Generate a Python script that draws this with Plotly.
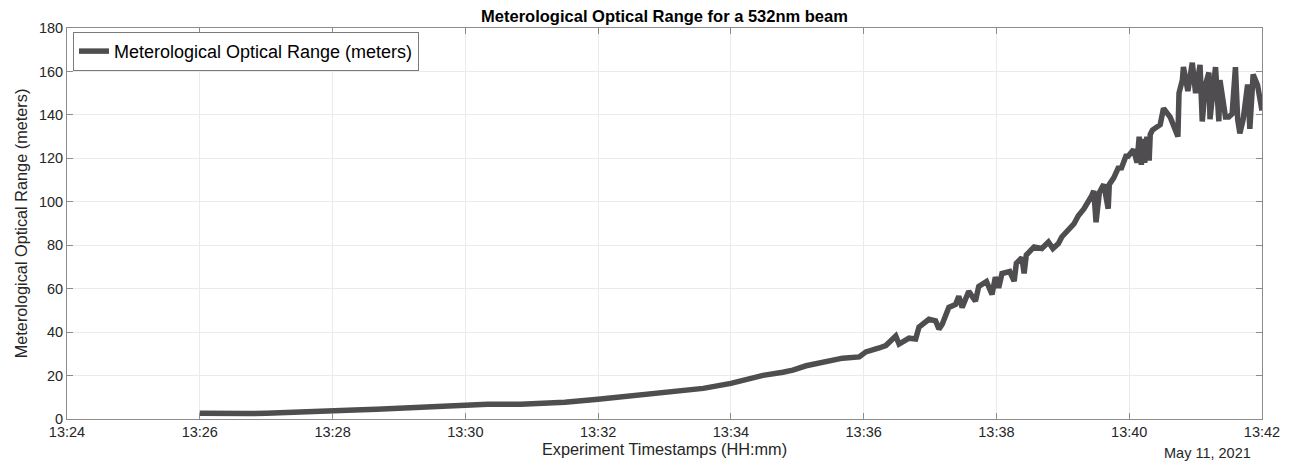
import plotly.graph_objects as go
import pandas as pd

DATE = "2021-05-11"

times = [
    "13:26:00", "13:26:15", "13:26:30", "13:26:45", "13:27:00", "13:27:20", "13:27:40",
    "13:28:00", "13:28:20", "13:28:40", "13:29:00", "13:29:20", "13:29:40", "13:30:00",
    "13:30:20", "13:30:50", "13:31:10", "13:31:30", "13:32:00", "13:32:20", "13:32:51",
    "13:33:35", "13:34:00", "13:34:29", "13:34:47", "13:34:56", "13:35:08", "13:35:23",
    "13:35:41", "13:35:56", "13:36:02", "13:36:14", "13:36:20", "13:36:29", "13:36:32",
    "13:36:41", "13:36:47", "13:36:50", "13:36:59", "13:37:05", "13:37:08", "13:37:11",
    "13:37:17", "13:37:23", "13:37:26", "13:37:29", "13:37:35", "13:37:41", "13:37:44",
    "13:37:51", "13:37:56", "13:37:59", "13:38:02", "13:38:05", "13:38:12", "13:38:16",
    "13:38:18", "13:38:23", "13:38:25", "13:38:27", "13:38:34", "13:38:41", "13:38:47",
    "13:38:51", "13:38:56", "13:38:59", "13:39:05", "13:39:10", "13:39:14", "13:39:19",
    "13:39:26", "13:39:28", "13:39:30", "13:39:33", "13:39:37", "13:39:41", "13:39:42",
    "13:39:46", "13:39:50", "13:39:53", "13:39:57", "13:39:59", "13:40:04", "13:40:07",
    "13:40:09", "13:40:11", "13:40:12", "13:40:14", "13:40:16", "13:40:18", "13:40:19",
    "13:40:21", "13:40:28", "13:40:31", "13:40:37", "13:40:44", "13:40:45", "13:40:48",
    "13:40:49", "13:40:53", "13:40:57", "13:41:00", "13:41:04", "13:41:06", "13:41:09",
    "13:41:12", "13:41:13", "13:41:18", "13:41:21", "13:41:22", "13:41:27", "13:41:30",
    "13:41:33", "13:41:36", "13:41:38", "13:41:40", "13:41:43", "13:41:47", "13:41:49",
    "13:41:52", "13:41:56", "13:41:58", "13:42:00",
]

mor_values = [
    2.6, 2.4, 2.3, 2.5, 2.7, 2.9, 3.3,
    3.8, 4.1, 4.5, 5.0, 5.6, 6.1, 6.6,
    6.8, 6.8, 7.0, 7.7, 9.1, 10.2, 11.8,
    14.1, 16.4, 20.1, 21.5, 22.5, 24.5, 25.9,
    28.0, 28.6, 30.9, 32.7, 33.8, 38.2, 34.5,
    37.2, 36.8, 42.3, 45.9, 45.2, 41.4, 43.6,
    51.4, 52.7, 56.5, 51.4, 58.8, 54.2, 61.0,
    63.3, 57.3, 65.3, 60.4, 67.0, 67.9, 63.5,
    71.7, 74.3, 67.0, 75.5, 79.2, 78.5, 81.5,
    78.5, 80.8, 83.8, 87.6, 89.8, 93.6, 96.7,
    102.7, 105.0, 90.6, 104.2, 108.0, 96.8, 108.0,
    111.0, 115.5, 115.6, 121.0, 121.0, 124.0, 118.0,
    130.0, 117.0, 129.0, 118.0, 130.0, 119.0, 131.0,
    133.0, 135.5, 143.0, 139.0, 130.0, 150.0, 156.0,
    162.0, 151.0, 164.0, 150.0, 163.0, 137.0, 154.0,
    159.5, 138.0, 162.0, 137.0, 156.0, 139.0, 139.0,
    140.5, 162.0, 138.0, 131.5, 138.0, 154.0, 133.6,
    158.6, 153.6, 147.0, 142.0,
]

y_ticks = [0, 20, 40, 60, 80, 100, 120, 140, 160, 180]

x_dt = pd.to_datetime([f"{DATE} {t}" for t in times])

FONT = "Liberation Sans, Arial, Helvetica, sans-serif"
TXT = "#262626"
AX = "#8c8c8c"

# the page body adds an 8px offset, so the figure is sized to fit inside it
W, H = 1284, 457

fig = go.Figure()
fig.add_trace(go.Scatter(
    x=x_dt, y=mor_values, mode="lines",
    name="Meterological Optical Range (meters)",
    line=dict(color="#4f4d50", width=5.5),
))

fig.update_layout(
    width=W, height=H,
    margin=dict(l=51, r=22, t=17, b=36),
    paper_bgcolor="white", plot_bgcolor="white",
    font=dict(family=FONT, color=TXT, size=14.5),
    title=dict(text="<b>Meterological Optical Range for a 532nm beam</b>",
               x=0.5, xref="paper", y=1 - 8 / H, yref="container",
               xanchor="center", yanchor="middle",
               font=dict(size=16.5, color="black")),
    showlegend=True,
    legend=dict(x=0.005, y=0.99, xanchor="left", yanchor="top",
                bgcolor="white", bordercolor="#7a7a7a", borderwidth=1,
                font=dict(size=18, color="black"),
                itemwidth=30, tracegroupgap=0),
)

fig.update_xaxes(
    type="date",
    range=[f"{DATE} 13:24:00", f"{DATE} 13:42:00"],
    dtick=120000, tick0=f"{DATE} 13:24:00",
    tickformat="%H:%M",
    ticks="inside", ticklen=6, tickcolor=AX,
    showline=True, linecolor=AX, linewidth=1, mirror="ticks",
    showgrid=True, gridcolor="#ebebeb", gridwidth=1,
    zeroline=False,
    tickfont=dict(size=14.5, color=TXT),
    title=dict(text="Experiment Timestamps (HH:mm)", standoff=1,
               font=dict(size=16.3, color=TXT)),
)

fig.update_yaxes(
    range=[0, 180], tickvals=y_ticks,
    ticks="inside", ticklen=6, tickcolor=AX,
    showline=True, linecolor=AX, linewidth=1, mirror="ticks",
    showgrid=True, gridcolor="#ebebeb", gridwidth=1,
    zeroline=False,
    tickfont=dict(size=14.5, color=TXT),
    title=dict(text="Meterological Optical Range (meters)", standoff=7,
               font=dict(size=16.3, color=TXT)),
)

fig.add_annotation(
    text="May 11, 2021", xref="paper", yref="paper",
    x=1.0, y=0, xshift=-9, yshift=-34, xanchor="right", yanchor="middle",
    showarrow=False, font=dict(size=14.5, color=TXT),
)

fig.write_html("out.html")
